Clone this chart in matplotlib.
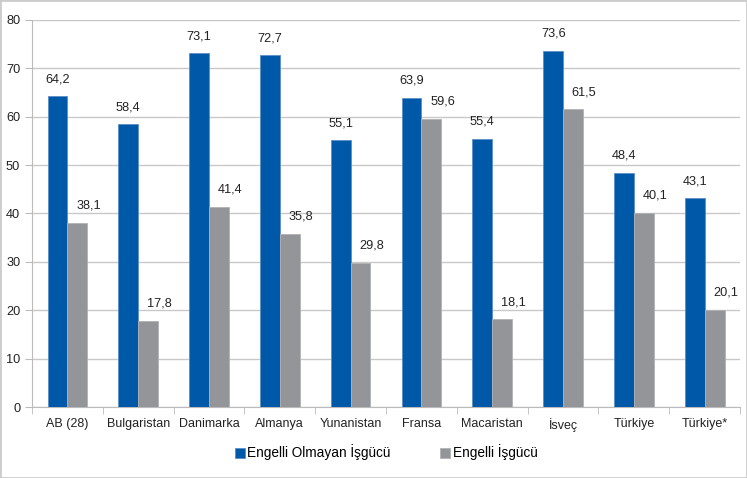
import numpy as np
import matplotlib
matplotlib.use("Agg")
import matplotlib.pyplot as plt
from matplotlib.patches import Rectangle

ulkeler = ["AB (28)", "Bulgaristan", "Danimarka", "Almanya", "Yunanistan",
           "Fransa", "Macaristan", "İsveç", "Türkiye", "Türkiye*"]
engelli_olmayan = [64.2, 58.4, 73.1, 72.7, 55.1, 63.9, 55.4, 73.6, 48.4, 43.1]
engelli = [38.1, 17.8, 41.4, 35.8, 29.8, 59.6, 18.1, 61.5, 40.1, 20.1]
seri_adlari = ["Engelli Olmayan İşgücü", "Engelli İşgücü"]

mavi = "#0058A8"
gri = "#939598"

plt.rcParams['font.family'] = ['Liberation Sans', 'DejaVu Sans']

fig = plt.figure(figsize=(7.47, 4.78), dpi=100)
ax = fig.add_axes([0.0428, 0.1485, 0.948, 0.81])

x = np.arange(len(ulkeler))
w = 0.28
b1 = ax.bar(x - w / 2, engelli_olmayan, w, color=mavi, edgecolor="#5C8FC8",
            linewidth=0.6, label=seri_adlari[0], zorder=3)
b2 = ax.bar(x + w / 2, engelli, w, color=gri, edgecolor="#B0B2B4",
            linewidth=0.6, label=seri_adlari[1], zorder=3)

# gri etiketler excel'deki gibi biraz sağa kayık
for bars, dx in ((b1, 0), (b2, 8)):
    for r in bars:
        ax.annotate(f"{r.get_height():.1f}".replace(".", ","),
                    (r.get_x() + r.get_width() / 2, r.get_height()),
                    xytext=(dx, 8), textcoords="offset points",
                    ha="center", va="bottom", fontsize=9.2, color="#222222")

ax.set_xlim(-0.5, len(ulkeler) - 0.5)
ax.set_ylim(0, 80)
ax.set_yticks(range(0, 81, 10))
ax.set_xticks(x)
ax.set_xticklabels(ulkeler)
ax.set_xticks(np.arange(-0.5, len(ulkeler)), minor=True)
ax.tick_params(axis="x", which="major", length=0, pad=8, labelsize=9, colors="#222222")
ax.tick_params(axis="x", which="minor", length=5, color="#BBBBBB")
ax.tick_params(axis="y", length=5, color="#BBBBBB", labelsize=9.2, labelcolor="#222222")
ax.grid(axis="y", color="#C8C8C8", linewidth=1, zorder=0)
for s in ("top", "right"):
    ax.spines[s].set_visible(False)
for s in ("left", "bottom"):
    ax.spines[s].set_color("#BBBBBB")

ax.legend(loc="upper center", bbox_to_anchor=(0.5, -0.065), ncol=2, frameon=False,
          fontsize=9.8, handlelength=0.75, handleheight=0.75, handletextpad=0.2,
          columnspacing=3.6)

fig.add_artist(Rectangle((0, 0), 1, 1, transform=fig.transFigure, fill=False,
                         edgecolor="#CCCCCC", linewidth=2))

fig.savefig("out.png", dpi=100)
